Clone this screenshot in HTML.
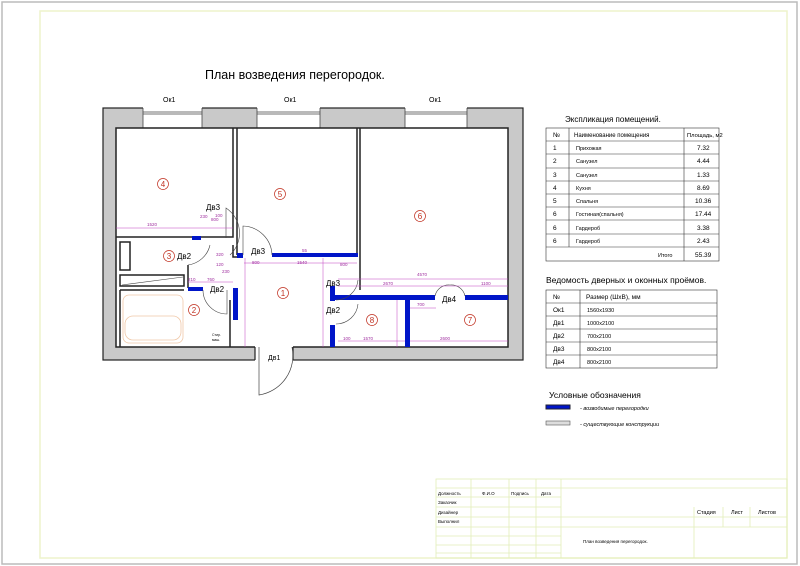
<!DOCTYPE html>
<html><head><meta charset="utf-8"><style>
html,body{margin:0;padding:0;background:#fff;}
svg{display:block;}
text{font-family:"Liberation Sans",sans-serif;}
</style></head><body>
<svg width="800" height="566" viewBox="0 0 800 566" xmlns="http://www.w3.org/2000/svg">
<rect x="2" y="2" width="795" height="562" fill="#fff" stroke="#bbb" stroke-width="1.5"/>
<rect x="40" y="11" width="747" height="547" fill="none" stroke="#eef3cc" stroke-width="1.5"/>
<text x="205" y="79" font-size="12.5">План возведения перегородок.</text>

<rect x="103" y="108" width="420" height="252" fill="#c9c9c9" stroke="#222" stroke-width="1.2"/>
<g fill="#fff" stroke="#444" stroke-width="0.8">
<rect x="143" y="107" width="59" height="22" stroke="none"/>
<rect x="257" y="107" width="63" height="22" stroke="none"/>
<rect x="405" y="107" width="62" height="22" stroke="none"/>
<line x1="143" y1="108" x2="143" y2="128"/><line x1="202" y1="108" x2="202" y2="128"/>
<line x1="257" y1="108" x2="257" y2="128"/><line x1="320" y1="108" x2="320" y2="128"/>
<line x1="405" y1="108" x2="405" y2="128"/><line x1="467" y1="108" x2="467" y2="128"/>
<line x1="143" y1="112" x2="202" y2="112"/><line x1="143" y1="114" x2="202" y2="114"/>
<line x1="257" y1="112" x2="320" y2="112"/><line x1="257" y1="114" x2="320" y2="114"/>
<line x1="405" y1="112" x2="467" y2="112"/><line x1="405" y1="114" x2="467" y2="114"/>
</g>
<text x="163" y="102" font-size="7">Ок1</text>
<text x="284" y="102" font-size="7">Ок1</text>
<text x="429" y="102" font-size="7">Ок1</text>
<rect x="116" y="128" width="392" height="219" fill="#fff" stroke="#222" stroke-width="1.5"/>
<rect x="255" y="345" width="38" height="16" fill="#fff"/>
<line x1="255" y1="347" x2="255" y2="360" stroke="#222" stroke-width="1.2"/>
<line x1="293" y1="347" x2="293" y2="360" stroke="#222" stroke-width="1.2"/>
<path d="M259 347 L259 395 A40 40 0 0 0 292 347" fill="none" stroke="#444" stroke-width="0.7"/>
<text x="268" y="360" font-size="7">Дв1</text>

<g fill="none" stroke="#222" stroke-width="1.5">
<path d="M116 237 L193 237 M200 237 L233 237 L233 128"/>
<path d="M237 128 L237 255 M357 128 L357 255 M360 128 L360 255 L360 290"/>
<rect x="120" y="242" width="10" height="28"/>
<rect x="120" y="275" width="64" height="11"/>
<path d="M120 290 L184 290 M120 290 L120 347 M233 245 L233 257 L237 257 M188 265 L188 288"/>
<path d="M230 300 L230 347"/>
</g>
<line x1="122" y1="285" x2="183" y2="277" stroke="#444" stroke-width="0.6"/>
<rect x="123" y="295" width="60" height="48" fill="none" stroke="#f0c8a8" stroke-width="0.8" rx="6"/>
<rect x="125" y="316" width="56" height="24" fill="none" stroke="#f0c8a8" stroke-width="0.8" rx="8"/>
<text x="212" y="336" font-size="3.5">Стир.</text><text x="212" y="341" font-size="3.5">маш.</text>

<g fill="#0015c8">
<rect x="192" y="236" width="9" height="4"/>
<rect x="188" y="287" width="15" height="4"/>
<rect x="233" y="288" width="5" height="32"/>
<rect x="237" y="253" width="6" height="5"/>
<rect x="272" y="253" width="86" height="4"/>
<rect x="330" y="286" width="5" height="15"/>
<rect x="332" y="295" width="103" height="5"/>
<rect x="465" y="295" width="43" height="5"/>
<rect x="405" y="297" width="5" height="50"/>
<rect x="330" y="325" width="5" height="22"/>
</g>
<g fill="none" stroke="#444" stroke-width="0.6">
<path d="M226 238 L226 208 A30 30 0 0 1 230 255"/>
<path d="M243 255 L243 226 A30 30 0 0 1 272 255"/>
<path d="M203 290 A24 24 0 0 0 227 314 L227 290"/>
<path d="M188 265 A26 26 0 0 0 210 245"/>
<path d="M336 300 A22 22 0 0 0 358 280"/>
<path d="M336 324 A22 22 0 0 0 358 304"/>
<path d="M435 296 A14 14 0 0 1 450 285 A14 14 0 0 1 465 296"/>
</g>
<g stroke="#c040c0" stroke-width="0.5" fill="none">
<line x1="116" y1="228" x2="233" y2="228"/>
<line x1="244" y1="263" x2="357" y2="263"/>
<line x1="338" y1="286" x2="508" y2="286"/>
<line x1="338" y1="279" x2="508" y2="279"/>
<line x1="338" y1="341" x2="405" y2="341"/>
<line x1="410" y1="341" x2="508" y2="341"/>
<line x1="410" y1="308" x2="436" y2="308"/>
<line x1="245" y1="258" x2="245" y2="347"/>
<line x1="323" y1="258" x2="323" y2="347"/>
<line x1="397" y1="300" x2="397" y2="347"/>
<line x1="188" y1="282" x2="233" y2="282"/>
</g>
<g fill="#a030a0" font-size="4.5">
<text x="147" y="226">1520</text><text x="211" y="221">800</text><text x="200" y="218">230</text><text x="215" y="217">100</text>
<text x="252" y="264">800</text><text x="297" y="264">1540</text><text x="302" y="252">55</text>
<text x="340" y="266">800</text><text x="417" y="276">4570</text><text x="383" y="285">2670</text><text x="481" y="285">1100</text>
<text x="343" y="340">100</text><text x="363" y="340">1570</text><text x="440" y="340">2600</text>
<text x="216" y="256">320</text><text x="216" y="266">120</text><text x="222" y="273">230</text>
<text x="188" y="281">210</text><text x="207" y="281">760</text><text x="417" y="306">700</text>
</g>
<g font-size="8" fill="#000">
<text x="206" y="210">Дв3</text><text x="177" y="259">Дв2</text><text x="210" y="292">Дв2</text>
<text x="251" y="254">Дв3</text><text x="326" y="286">Дв3</text><text x="326" y="313">Дв2</text><text x="442" y="302">Дв4</text>
</g>
<g fill="none" stroke="#c03020" stroke-width="0.7">
<circle cx="163" cy="184" r="5.5"/><circle cx="280" cy="194" r="5.5"/><circle cx="420" cy="216" r="5.5"/>
<circle cx="169" cy="256" r="5.5"/><circle cx="194" cy="310" r="5.5"/><circle cx="283" cy="293" r="5.5"/>
<circle cx="372" cy="320" r="5.5"/><circle cx="470" cy="320" r="5.5"/>
</g>
<g fill="#c03020" font-size="8" text-anchor="middle">
<text x="163" y="187">4</text><text x="280" y="197">5</text><text x="420" y="219">6</text>
<text x="169" y="259">3</text><text x="194" y="313">2</text><text x="283" y="296">1</text>
<text x="372" y="323">8</text><text x="470" y="323">7</text>
</g>

<text x="565" y="122" font-size="8">Экспликация помещений.</text>
<g stroke="#333" stroke-width="0.6" fill="none">
<rect x="546" y="128" width="173" height="133"/>
<line x1="569" y1="128" x2="569" y2="247"/><line x1="684" y1="128" x2="684" y2="261"/>
<line x1="546" y1="141" x2="719" y2="141"/><line x1="546" y1="154" x2="719" y2="154"/>
<line x1="546" y1="168" x2="719" y2="168"/><line x1="546" y1="181" x2="719" y2="181"/>
<line x1="546" y1="194" x2="719" y2="194"/><line x1="546" y1="207" x2="719" y2="207"/>
<line x1="546" y1="220" x2="719" y2="220"/><line x1="546" y1="234" x2="719" y2="234"/>
<line x1="546" y1="247" x2="719" y2="247"/>
</g>
<g font-size="6.5">
<text x="553" y="137">№</text><text x="574" y="137" font-size="6">Наименование помещения</text><text x="687" y="137" font-size="5.8">Площадь, м2</text>
<text x="553" y="150">1</text><text x="576" y="150" font-size="5.5">Прихожая</text><text x="697" y="150">7.32</text>
<text x="553" y="163">2</text><text x="576" y="163" font-size="5.5">Санузел</text><text x="697" y="163">4.44</text>
<text x="553" y="177">3</text><text x="576" y="177" font-size="5.5">Санузел</text><text x="697" y="177">1.33</text>
<text x="553" y="190">4</text><text x="576" y="190" font-size="5.5">Кухня</text><text x="697" y="190">8.69</text>
<text x="553" y="203">5</text><text x="576" y="203" font-size="5.5">Спальня</text><text x="695" y="203">10.36</text>
<text x="553" y="216">6</text><text x="576" y="216" font-size="5.5">Гостиная(спальня)</text><text x="695" y="216">17.44</text>
<text x="553" y="230">6</text><text x="576" y="230" font-size="5.5">Гардероб</text><text x="697" y="230">3.38</text>
<text x="553" y="243">6</text><text x="576" y="243" font-size="5.5">Гардероб</text><text x="697" y="243">2.43</text>
<text x="658" y="257" font-size="5.5">Итого</text><text x="695" y="257">55.39</text>
</g>

<text x="546" y="283" font-size="8.5">Ведомость дверных и оконных проёмов.</text>
<g stroke="#333" stroke-width="0.6" fill="none">
<rect x="546" y="290" width="171" height="78"/>
<line x1="580" y1="290" x2="580" y2="368"/>
<line x1="546" y1="303" x2="717" y2="303"/><line x1="546" y1="316" x2="717" y2="316"/>
<line x1="546" y1="329" x2="717" y2="329"/><line x1="546" y1="342" x2="717" y2="342"/>
<line x1="546" y1="355" x2="717" y2="355"/>
</g>
<g font-size="6.5">
<text x="553" y="299">№</text><text x="586" y="299">Размер (ШхВ), мм</text>
<text x="553" y="312">Ок1</text><text x="587" y="312" font-size="5.5">1560x1930</text>
<text x="553" y="325">Дв1</text><text x="587" y="325" font-size="5.5">1000x2100</text>
<text x="553" y="338">Дв2</text><text x="587" y="338" font-size="5.5">700x2100</text>
<text x="553" y="351">Дв3</text><text x="587" y="351" font-size="5.5">800x2100</text>
<text x="553" y="364">Дв4</text><text x="587" y="364" font-size="5.5">800x2100</text>
</g>

<text x="549" y="398" font-size="8.5">Условные обозначения</text>
<rect x="546" y="405" width="24" height="4" fill="#0015c8" stroke="#223"/>
<text x="580" y="410" font-size="5.5" font-style="italic">- возводимые перегородки</text>
<rect x="546" y="421" width="24" height="4" fill="#ddd" stroke="#555" stroke-width="0.6"/>
<text x="580" y="426" font-size="5.5" font-style="italic">- существующие конструкции</text>

<g stroke="#e2eeb8" stroke-width="0.8" fill="none">
<rect x="436" y="479" width="351" height="79"/>
<line x1="471" y1="479" x2="471" y2="558"/><line x1="509" y1="479" x2="509" y2="558"/>
<line x1="536" y1="479" x2="536" y2="558"/><line x1="561" y1="479" x2="561" y2="558"/>
<line x1="436" y1="488" x2="787" y2="488"/><line x1="436" y1="497" x2="561" y2="497"/>
<line x1="436" y1="507" x2="561" y2="507"/><line x1="436" y1="517" x2="787" y2="517"/>
<line x1="436" y1="527" x2="787" y2="527"/><line x1="436" y1="536" x2="561" y2="536"/>
<line x1="436" y1="545" x2="561" y2="545"/><line x1="436" y1="553" x2="561" y2="553"/>
<line x1="694" y1="507" x2="694" y2="558"/><line x1="723" y1="507" x2="723" y2="527"/>
<line x1="750" y1="507" x2="750" y2="527"/>
</g>
<g font-size="4.5">
<text x="438" y="495">Должность</text><text x="482" y="495">Ф.И.О</text><text x="511" y="495">Подпись</text><text x="541" y="495">Дата</text>
<text x="438" y="504">Заказчик</text><text x="438" y="514">Дизайнер</text><text x="438" y="523">Выполнил</text>
<text x="697" y="514" font-size="5.5">Стадия</text><text x="731" y="514" font-size="5.5">Лист</text><text x="758" y="514" font-size="5.5">Листов</text>
<text x="583" y="543">План возведения перегородок.</text>
</g>
</svg>
</body></html>
